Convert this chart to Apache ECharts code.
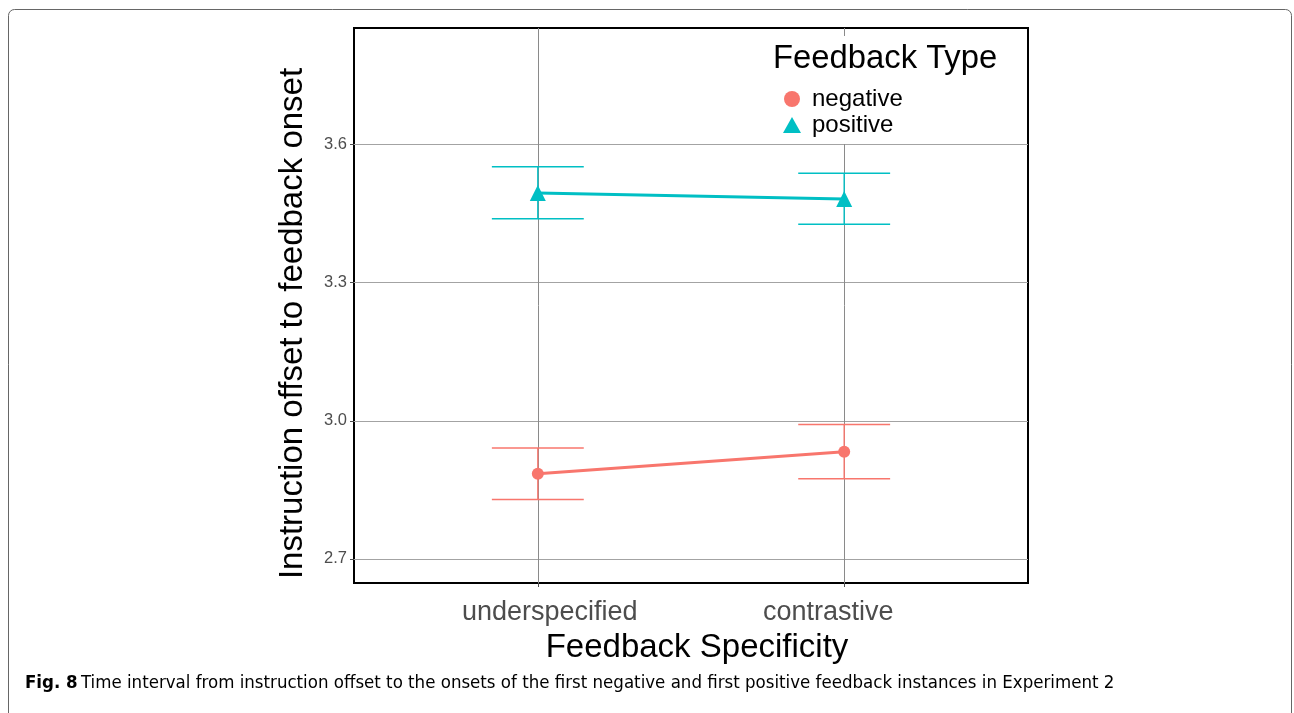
<!DOCTYPE html>
<html>
<head>
<meta charset="utf-8">
<script src="https://cdn.jsdelivr.net/npm/echarts@6/dist/echarts.min.js"></script>
<style>
html,body{margin:0;padding:0;background:#fff;}
#chart{width:1294px;height:713px;}
</style>
</head>
<body>
<div id="chart"></div>
<script>
// ---- data ----
const categories = ['underspecified', 'contrastive'];
const negMean = [2.885, 2.933];
const negLow  = [2.829, 2.874];
const negHigh = [2.941, 2.992];
const posMean = [3.495, 3.482];
const posLow  = [3.439, 3.427];
const posHigh = [3.552, 3.538];
const yTicks = [2.7, 3.0, 3.3, 3.6];
const xPositions = [1, 2];

const NEG = '#F8766D', POS = '#00BFC4';
const FONT = '"Liberation Sans", Arial, sans-serif';
const capHalf = 0.15;

function errSeries(name, low, high, color) {
  return {
    type: 'custom',
    name: name + ' error',
    z: 2,
    silent: true,
    data: xPositions.map((x, i) => [x, low[i], high[i]]),
    renderItem: function (params, api) {
      const x = api.value(0), lo = api.value(1), hi = api.value(2);
      const pTop = api.coord([x, hi]);
      const pBot = api.coord([x, lo]);
      const l = api.coord([x - capHalf, hi])[0];
      const r = api.coord([x + capHalf, hi])[0];
      return {
        type: 'group',
        children: [
          {type: 'line', shape: {x1: pTop[0], y1: pTop[1], x2: pBot[0], y2: pBot[1]}, style: {stroke: color, lineWidth: 1.4}},
          {type: 'line', shape: {x1: l, y1: pTop[1], x2: r, y2: pTop[1]}, style: {stroke: color, lineWidth: 1.5}},
          {type: 'line', shape: {x1: l, y1: pBot[1], x2: r, y2: pBot[1]}, style: {stroke: color, lineWidth: 1.5}}
        ]
      };
    }
  };
}

const chart = echarts.init(document.getElementById('chart'));
chart.setOption({
  backgroundColor: '#fff',
  animation: false,
  textStyle: {fontFamily: FONT},
  title: {
    text: 'Feedback Type',
    left: 771,
    top: 36,
    padding: [6, 2, 10, 2],
    backgroundColor: '#fff',
    textStyle: {fontSize: 32.8, fontWeight: 'normal', color: '#000', fontFamily: FONT}
  },
  legend: {
    orient: 'vertical',
    left: 779,
    top: 83,
    padding: [4, 28, 7, 4],
    backgroundColor: '#fff',
    itemWidth: 18,
    itemHeight: 16,
    itemGap: 2,
    textStyle: {fontSize: 24, color: '#000', fontFamily: FONT, padding: [0, 0, 0, 6]},
    data: [
      {name: 'negative', icon: 'circle', itemStyle: {color: NEG}},
      {name: 'positive', icon: 'triangle', itemStyle: {color: POS}}
    ]
  },
  grid: {
    left: 354, right: 266, top: 28, bottom: 130,
    show: true, borderColor: '#000', borderWidth: 2, backgroundColor: '#fff'
  },
  xAxis: {
    type: 'value',
    min: 0.4, max: 2.6,
    name: 'Feedback Specificity',
    nameLocation: 'middle',
    nameGap: 48,
    nameTextStyle: {fontSize: 33, color: '#000', fontFamily: FONT, padding: [0, 0, 0, 12]},
    axisLine: {show: false},
    splitLine: {show: false},
    axisTick: {show: true, customValues: xPositions, length: 4, lineStyle: {color: '#4d4d4d'}},
    axisLabel: {
      customValues: xPositions,
      margin: 16,
      fontSize: 27,
      color: '#4d4d4d',
      fontFamily: FONT,
      formatter: function (v) {
        const i = xPositions.indexOf(Math.round(v));
        return i === 0 ? '{a|' + categories[i] + '}' : '{b|' + categories[i] + '}';
      },
      rich: {
        a: {fontSize: 27, color: '#4d4d4d', fontFamily: FONT, padding: [0, 0, 0, 24]},
        b: {fontSize: 27, color: '#4d4d4d', fontFamily: FONT, padding: [0, 32, 0, 0]}
      }
    }
  },
  yAxis: {
    type: 'value',
    min: 2.6476, max: 3.8534,
    name: 'Instruction offset to feedback onset',
    nameLocation: 'middle',
    nameGap: 45,
    nameRotate: 90,
    nameTextStyle: {fontSize: 33, color: '#000', fontFamily: FONT, padding: [0, 36, 0, 0]},
    axisLine: {show: false},
    splitLine: {show: false},
    axisTick: {show: true, customValues: yTicks, length: 4, lineStyle: {color: '#4d4d4d'}},
    axisLabel: {
      customValues: yTicks,
      margin: 7,
      fontSize: 16.5,
      color: '#4d4d4d',
      fontFamily: FONT,
      formatter: v => v.toFixed(1)
    }
  },
  series: [
    {
      type: 'line',
      name: 'gridlines',
      data: [],
      z: 1,
      silent: true,
      markLine: {
        z: 1,
        silent: true,
        symbol: ['none', 'none'],
        label: {show: false},
        animation: false,
        data: yTicks.map(v => ({yAxis: v, lineStyle: {color: '#a3a3a3', width: 1, type: 'solid'}}))
          .concat(xPositions.map(v => ({xAxis: v, lineStyle: {color: '#8a8a8a', width: 1, type: 'solid'}})))
      }
    },
    errSeries('negative', negLow, negHigh, NEG),
    errSeries('positive', posLow, posHigh, POS),
    {
      type: 'line',
      name: 'negative',
      z: 3,
      data: xPositions.map((x, i) => [x, negMean[i]]),
      symbol: 'circle',
      symbolSize: 12,
      lineStyle: {color: NEG, width: 3},
      itemStyle: {color: NEG}
    },
    {
      type: 'line',
      name: 'positive',
      z: 3,
      data: xPositions.map((x, i) => [x, posMean[i]]),
      symbol: 'triangle',
      symbolSize: 16,
      lineStyle: {color: POS, width: 3},
      itemStyle: {color: POS}
    }
  ],
  graphic: [
    {
      type: 'rect',
      silent: true,
      shape: {x: 8.5, y: 9.5, width: 1283, height: 730, r: 6},
      style: {fill: 'none', stroke: '#666', lineWidth: 1}
    },
    {
      type: 'text',
      left: 25,
      top: 674,
      style: {
        text: '{b|Fig. 8} {n|Time interval from instruction offset to the onsets of the first negative and first positive feedback instances in Experiment 2}',
        rich: {
          b: {fontSize: 18.5, fontWeight: 'bold', fill: '#000', fontFamily: '"Liberation Sans Narrow", "DejaVu Sans Condensed", sans-serif'},
          n: {fontSize: 18.5, fill: '#000', fontFamily: '"Liberation Sans Narrow", "DejaVu Sans Condensed", sans-serif'}
        }
      }
    }
  ]
});
</script>
</body>
</html>
